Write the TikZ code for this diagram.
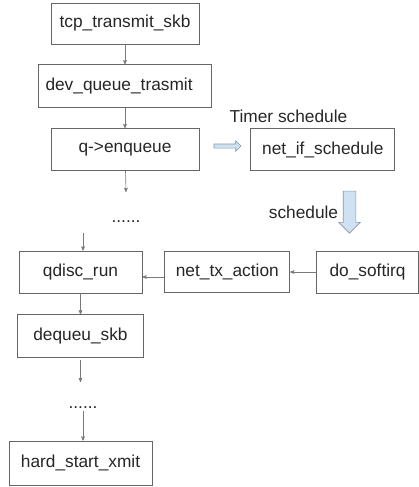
\documentclass[tikz,border=0pt]{standalone}
\usepackage{fontspec}
\setmainfont{Liberation Sans}
\usetikzlibrary{positioning,arrows,shapes.arrows}
\definecolor{boxline}{HTML}{666666}
\definecolor{arrowline}{HTML}{7A7A7A}
\definecolor{hollowfill}{HTML}{CFE2F3}
\definecolor{hollowline}{HTML}{8A97A4}

\begin{document}
\begin{tikzpicture}[>=stealth',x=1pt,y=-1pt,node distance=20pt,
		func/.style={draw=boxline,line width=0.8pt,minimum height=42pt,font=\fontsize{17.3}{20}\selectfont,text=black!85},
		txt/.style={font=\fontsize{17.3}{20}\selectfont,text=black!85},
		hollow/.style={single arrow,draw=hollowline,fill=hollowfill,line width=0.6pt},
		every edge/.style={draw=arrowline,line width=0.6pt,->}]
		\useasboundingbox (0,0) rectangle (418,487);

		\node[func,minimum width=148pt,minimum height=41pt] (tcp) at (125,23.5) {tcp\_transmit\_skb};
		\node[func,minimum width=173pt,minimum height=43pt,text width=159pt] (dev) [below=of tcp] {dev\_queue\_trasmit};
		\node[func,minimum width=148pt] (q) [below=of dev] {q->enqueue};
		\node[func,minimum width=144pt] (nis) [right=51pt of q] {net\_if\_schedule};
		\node[txt] (timer) at (288.5,116) {Timer schedule};
		\node[hollow,minimum height=27pt,inner sep=1.75pt,single arrow head extend=3.25pt] (hr) at (226.5,146) {};
		\node[hollow,shape border rotate=270,minimum height=42pt,inner sep=6pt,single arrow head extend=4.5pt] (hd) at (349.5,209) {};
		\node[txt] (sched) at (303.5,212) {schedule};
		\node[txt] (dots1) at (126,221.5) {......};

		\node[func,minimum width=123pt] (qdisc) at (80.5,272) {qdisc\_run};
		\node[func,minimum width=125pt,minimum height=41pt] (ntx) [right=22pt of qdisc] {net\_tx\_action};
		\node[func,minimum width=102pt] (soft) [right=26pt of ntx] {do\_softirq};
		\node[func,minimum width=126pt,minimum height=43pt] (deq) [below=21pt of qdisc] {dequeu\_skb};
		\node[txt] (dots2) at (83,407.5) {......};
		\node[func,minimum width=143pt,minimum height=44pt] (hard) at (80.5,463) {hard\_start\_xmit};

		\coordinate (qend) at (126,192);
		\coordinate (dtop) at (83,233);
		\coordinate (dend) at (80.5,382);
		\coordinate (htop) at (83,411);

		\draw	(tcp) edge (dev)
				(dev) edge (q)
				(q) edge (qend)
				(dtop) edge (dtop |- qdisc.north)
				(ntx.west |- 0,277) edge (qdisc.east |- 0,277)
				(soft) edge (ntx)
				(qdisc) edge (deq)
				([yshift=-2pt]deq.south) edge (dend)
				(htop) edge (htop |- hard.north);
	\end{tikzpicture}
\end{document}
